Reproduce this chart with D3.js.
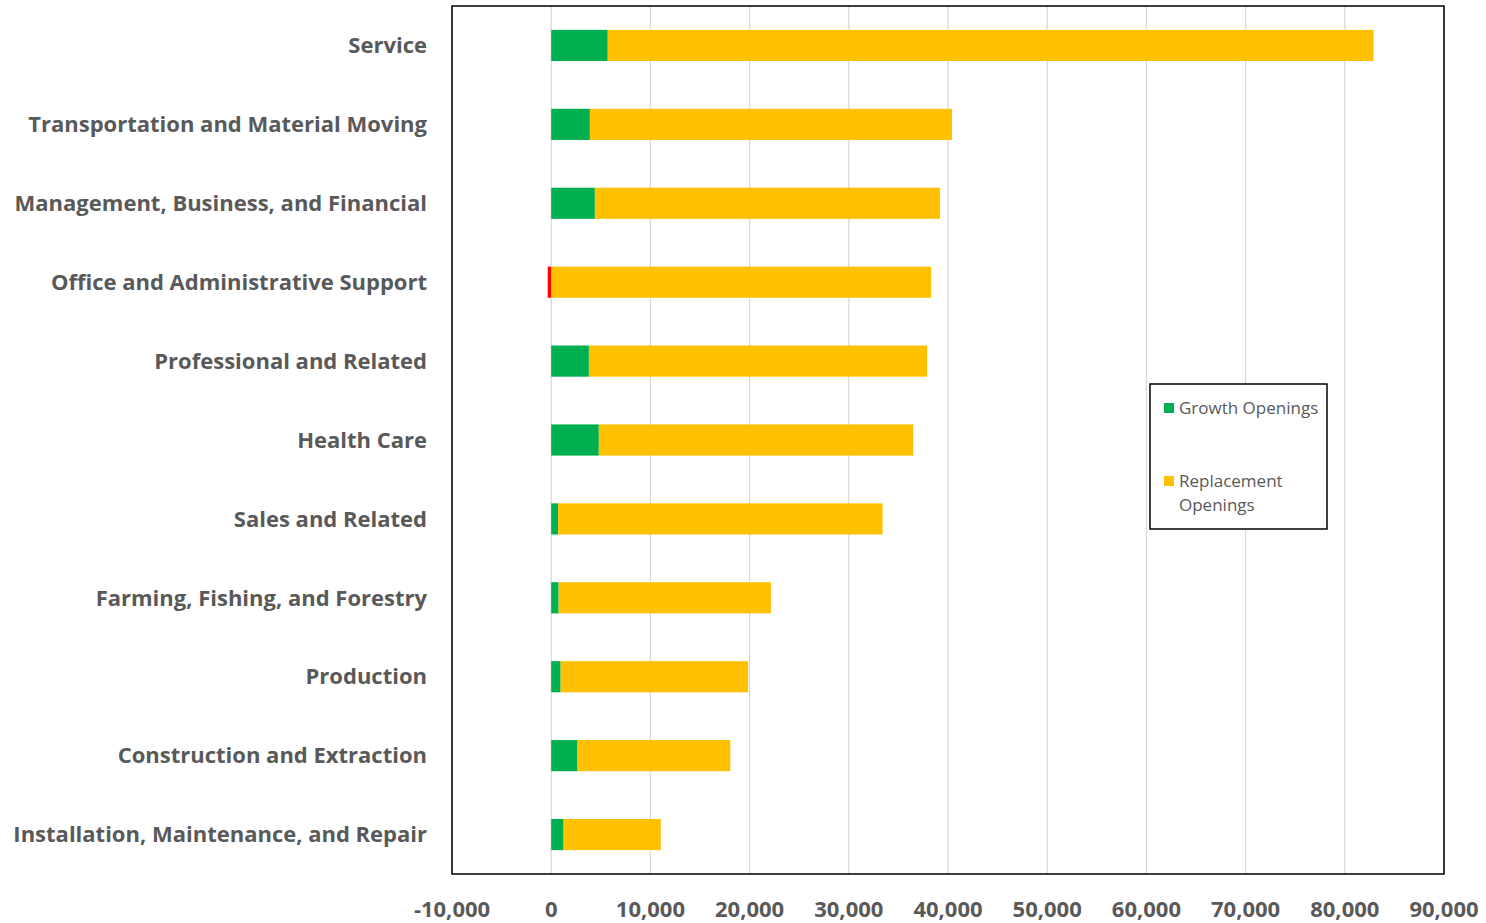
<!DOCTYPE html>
<html><head><meta charset="utf-8">
<script src="https://cdn.jsdelivr.net/npm/d3@7"></script>
<style>body{margin:0;background:#fff}</style>
</head><body>
<svg id="c" width="1486" height="923"></svg>
<script>
const categories = ["Service","Transportation and Material Moving","Management, Business, and Financial","Office and Administrative Support","Professional and Related","Health Care","Sales and Related","Farming, Fishing, and Forestry","Production","Construction and Extraction","Installation, Maintenance, and Repair"];
const growth = [5700, 3900, 4400, -350, 3800, 4800, 700, 750, 950, 2650, 1250];
const replacement = [77200, 36500, 34800, 38300, 34100, 31700, 32700, 21400, 18900, 15400, 9800];
const tickValues = [-10000,0,10000,20000,30000,40000,50000,60000,70000,80000,90000];
const seriesNames = ["Growth Openings","Replacement Openings"];

const svg = d3.select("#c");
const L=452, R=1444, T=6, B=874;
const x = d3.scaleLinear().domain([-10000,90000]).range([L,R]);
const y = d3.scaleBand().domain(categories).range([T,B]).paddingInner(0.605).paddingOuter(0.3025);
const font = "'Open Sans', sans-serif";
const grey = "#595959";

svg.append("g").selectAll("line").data(tickValues).join("line")
  .attr("x1",d=>x(d)).attr("x2",d=>x(d)).attr("y1",T).attr("y2",B)
  .attr("stroke","#d9d9d9").attr("stroke-width",1.3);

// growth bars
svg.append("g").selectAll("rect").data(categories).join("rect")
  .attr("x",(d,i)=>Math.min(x(0),x(growth[i])))
  .attr("width",(d,i)=>Math.abs(x(growth[i])-x(0)))
  .attr("y",d=>y(d)).attr("height",y.bandwidth())
  .attr("fill",(d,i)=>growth[i]<0?"#ff0000":"#00b050");
// replacement bars
svg.append("g").selectAll("rect").data(categories).join("rect")
  .attr("x",(d,i)=>x(Math.max(0,growth[i])))
  .attr("width",(d,i)=>x(Math.max(0,growth[i])+replacement[i])-x(Math.max(0,growth[i])))
  .attr("y",d=>y(d)).attr("height",y.bandwidth())
  .attr("fill","#ffc000");

svg.append("rect").attr("x",L).attr("y",T).attr("width",R-L).attr("height",B-T)
  .attr("fill","none").attr("stroke","#000").attr("stroke-width",1.5);

// category labels
svg.append("g").selectAll("text").data(categories).join("text")
  .attr("x",427).attr("y",d=>y(d)+y.bandwidth()/2).attr("dy","0.35em")
  .attr("text-anchor","end").attr("font-family",font).attr("font-weight","bold")
  .attr("font-size",22).attr("fill",grey).text(d=>d);

// x tick labels
const fmt = d=>d3.format(",")(d).replace("\u2212","-");
svg.append("g").selectAll("text").data(tickValues).join("text")
  .attr("x",d=>x(d)).attr("y",909).attr("dy","0.35em").attr("text-anchor","middle")
  .attr("font-family",font).attr("font-weight","bold").attr("font-size",22).attr("fill",grey)
  .text(fmt);

// legend
const lg = svg.append("g");
lg.append("rect").attr("x",1150).attr("y",384).attr("width",177).attr("height",145)
  .attr("fill","#fff").attr("stroke","#000").attr("stroke-width",1.5);
const colors=["#00b050","#ffc000"];
const ly=[408,481];
seriesNames.forEach((s,i)=>{
  lg.append("rect").attr("x",1164).attr("y",ly[i]-5).attr("width",10).attr("height",10).attr("fill",colors[i]);
});
lg.append("text").attr("x",1179).attr("y",408).attr("dy","0.35em").attr("font-family",font).attr("font-size",17).attr("fill",grey).text(seriesNames[0]);
const t2 = lg.append("text").attr("font-family",font).attr("font-size",17).attr("fill",grey);
t2.append("tspan").attr("x",1179).attr("y",481).attr("dy","0.35em").text("Replacement");
t2.append("tspan").attr("x",1179).attr("y",505).attr("dy","0.35em").text("Openings");
</script>
</body></html>
